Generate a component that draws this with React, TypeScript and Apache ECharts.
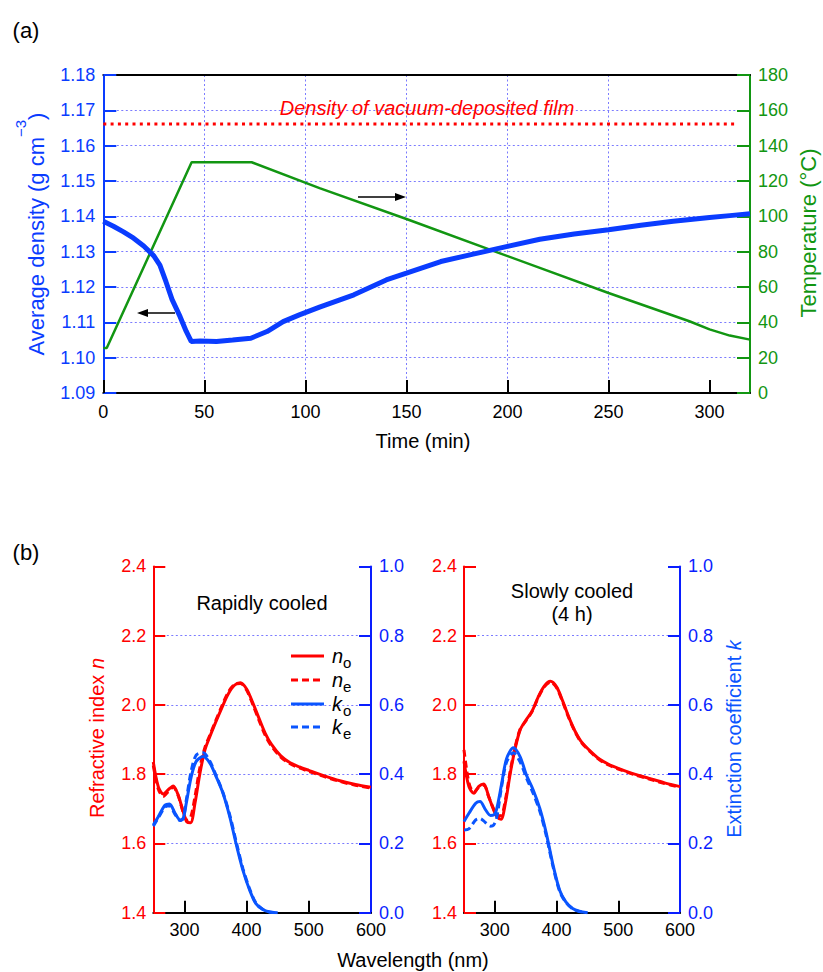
import React, { useEffect, useRef } from 'react';
import * as echarts from 'echarts';

// ---------- (a) data ----------
const TIME_DENSITY = [0, 5, 10, 15, 20, 25, 28, 31, 34, 38, 41, 43.5, 48, 56, 64, 73, 81, 89, 97, 107, 124, 140, 150, 167, 183, 200, 216, 233, 250, 266, 282, 300, 310, 320];
const DENSITY = [1.1386, 1.1372, 1.1356, 1.1338, 1.1316, 1.1288, 1.1262, 1.1215, 1.1165, 1.1116, 1.1075, 1.1046, 1.1047, 1.1046, 1.105, 1.1055, 1.1074, 1.1102, 1.1121, 1.1143, 1.1178, 1.122, 1.1239, 1.1272, 1.1293, 1.1315, 1.1335, 1.135, 1.1362, 1.1375, 1.1386, 1.1397, 1.1402, 1.1407];
const TIME_TEMP = [0, 1.7, 43.7, 73.4, 107, 150, 216, 250, 290, 300, 310, 320];
const TEMPERATURE = [25.5, 25.5, 130.6, 130.6, 116, 98.5, 70.8, 56.6, 40.6, 36, 32.5, 30.2];
const VACUUM_TIME = [0, 313];
const VACUUM_DENSITY = [1.1661, 1.1661];
const TIME_LABELS = [0, 50, 100, 150, 200, 250, 300];

// ---------- (b) data ----------
const WL_N = [250, 258, 266, 274, 282, 290, 298, 304, 310, 317, 325, 333, 341, 350, 360, 370, 380, 390, 400, 410, 420, 430, 440, 455, 470, 485, 500, 525, 550, 575, 600];
const RAPID_NO = [1.835, 1.764, 1.743, 1.755, 1.766, 1.74, 1.692, 1.662, 1.66, 1.716, 1.803, 1.87, 1.909, 1.949, 1.991, 2.03, 2.056, 2.064, 2.046, 2.006, 1.961, 1.918, 1.886, 1.853, 1.833, 1.821, 1.811, 1.795, 1.781, 1.77, 1.762];
const RAPID_NE = [1.825, 1.757, 1.736, 1.75, 1.762, 1.738, 1.69, 1.668, 1.675, 1.735, 1.82, 1.877, 1.913, 1.953, 1.996, 2.035, 2.058, 2.062, 2.043, 2.001, 1.955, 1.912, 1.881, 1.849, 1.83, 1.818, 1.808, 1.793, 1.779, 1.768, 1.76];
const SLOW_NO = [1.837, 1.764, 1.745, 1.765, 1.772, 1.735, 1.697, 1.676, 1.67, 1.716, 1.803, 1.875, 1.928, 1.955, 1.981, 2.022, 2.054, 2.068, 2.052, 2.011, 1.964, 1.924, 1.894, 1.866, 1.843, 1.828, 1.817, 1.801, 1.788, 1.775, 1.764];
const SLOW_NE = [1.87, 1.775, 1.748, 1.762, 1.768, 1.735, 1.7, 1.682, 1.68, 1.725, 1.81, 1.88, 1.93, 1.953, 1.98, 2.02, 2.052, 2.066, 2.05, 2.008, 1.962, 1.922, 1.892, 1.864, 1.841, 1.826, 1.815, 1.799, 1.786, 1.773, 1.762];

const WL_K = [250, 258, 269, 276, 285, 293, 298, 303, 311, 319, 330, 341, 351, 362, 373, 383, 394, 405, 415, 426, 437, 450];
const RAPID_KO = [0.253, 0.277, 0.311, 0.314, 0.287, 0.268, 0.272, 0.316, 0.393, 0.437, 0.451, 0.432, 0.393, 0.345, 0.277, 0.2, 0.123, 0.065, 0.026, 0.009, 0.002, 0];
const RAPID_KE = [0.25, 0.274, 0.305, 0.309, 0.284, 0.266, 0.272, 0.325, 0.41, 0.455, 0.462, 0.437, 0.396, 0.347, 0.282, 0.207, 0.128, 0.068, 0.028, 0.01, 0.002, 0];
const SLOW_KO = [0.263, 0.287, 0.316, 0.321, 0.297, 0.281, 0.282, 0.3, 0.372, 0.445, 0.476, 0.45, 0.398, 0.355, 0.3, 0.232, 0.14, 0.065, 0.031, 0.012, 0.004, 0];
const SLOW_KE = [0.239, 0.242, 0.268, 0.272, 0.26, 0.25, 0.253, 0.275, 0.365, 0.435, 0.462, 0.435, 0.39, 0.345, 0.292, 0.225, 0.135, 0.062, 0.03, 0.011, 0.003, 0];
const WL_LABELS = [300, 400, 500, 600];
const WL_TICKS = [300, 400, 500];

const FONT = '"Liberation Sans", Arial, Helvetica, sans-serif';
const BLUE = '#0a3cff';
const BLUE_AX = '#0a1eff';
const K_BLUE = '#0a55ff';
const GREEN = '#129612';
const RED = '#ff0000';
const GRIDC = '#7b7bff';

const zip = (xs: number[], ys: number[]) => xs.map((x, i) => [x, ys[i]]);

export default function App() {
  const ref = useRef<HTMLDivElement>(null);
  useEffect(() => {
    document.body.style.margin = '0';
    const chart = echarts.init(ref.current!, null, { renderer: 'svg' });

    const dotted = { type: [2, 2.5], color: GRIDC, width: 1 };

    const bottomPanelX = (gridIndex: number) => ({
      type: 'value', gridIndex, min: 250, max: 600,
      axisLine: { show: true, onZero: false, lineStyle: { color: '#000', width: 2 } },
      axisTick: { show: true, inside: true, length: 12, customValues: WL_TICKS, lineStyle: { color: '#000', width: 2 } },
      axisLabel: { show: true, customValues: WL_LABELS, color: '#000', fontSize: 18, fontFamily: FONT, margin: 8 },
      splitLine: { show: false },
    });
    const nAxis = (gridIndex: number) => ({
      type: 'value', gridIndex, min: 1.4, max: 2.4, interval: 0.2, position: 'left',
      axisLine: { show: true, onZero: false, lineStyle: { color: RED, width: 2 } },
      axisTick: { show: true, inside: true, length: 12, lineStyle: { color: RED, width: 2 } },
      axisLabel: { color: RED, fontSize: 18, fontFamily: FONT, margin: 7, formatter: (v: number) => v.toFixed(1) },
      splitLine: { show: true, showMaxLine: false, showMinLine: false, lineStyle: dotted },
    });
    const kAxis = (gridIndex: number) => ({
      type: 'value', gridIndex, min: 0, max: 1.0, interval: 0.2, position: 'right',
      axisLine: { show: true, onZero: false, lineStyle: { color: BLUE_AX, width: 2 } },
      axisTick: { show: true, inside: true, length: 12, lineStyle: { color: BLUE_AX, width: 2 } },
      axisLabel: { color: BLUE_AX, fontSize: 18, fontFamily: FONT, margin: 8, formatter: (v: number) => v.toFixed(1) },
      splitLine: { show: false },
    });

    const curve = (name: string, x: number, y: number, data: number[][], color: string, dashed: boolean) => ({
      name, type: 'line', xAxisIndex: x, yAxisIndex: y, data, symbol: 'none', smooth: 0.3,
      lineStyle: { color, width: 3, type: dashed ? [7, 4] : 'solid' }, z: color === RED ? 3 : 4,
    });

    const txt = (x: number, y: number, text: string, fontSize: number, fill: string, extra: any = {}) => ({
      type: 'text', x, y, z: 100,
      style: { text, fontSize, fill, fontFamily: FONT, align: 'center', verticalAlign: 'middle', ...extra },
    });

    const legendRows = [
      { y: 656, color: RED, dashed: false, sym: 'n', sub: 'o' },
      { y: 680, color: RED, dashed: true, sym: 'n', sub: 'e' },
      { y: 704, color: K_BLUE, dashed: false, sym: 'k', sub: 'o' },
      { y: 727, color: K_BLUE, dashed: true, sym: 'k', sub: 'e' },
    ];
    const legendGraphics: any[] = [];
    legendRows.forEach((r) => {
      legendGraphics.push({
        type: 'line', z: 100, shape: { x1: 291, y1: r.y, x2: 324, y2: r.y },
        style: { stroke: r.color, lineWidth: 3, lineDash: r.dashed ? [7, 4] : null },
      });
      legendGraphics.push(txt(332, r.y, r.sym, 20, '#000', { align: 'left', fontStyle: 'italic' }));
      legendGraphics.push(txt(343, r.y + 6, r.sub, 15, '#000', { align: 'left' }));
    });

    const arrow = (x1: number, x2: number, y: number) => {
      const dir = x2 > x1 ? 1 : -1;
      return [
        { type: 'line', z: 100, shape: { x1, y1: y, x2: x2 - dir * 8, y2: y }, style: { stroke: '#000', lineWidth: 1.5 } },
        { type: 'polygon', z: 100, shape: { points: [[x2, y], [x2 - dir * 11, y - 4], [x2 - dir * 11, y + 4]] }, style: { fill: '#000' } },
      ];
    };

    const option: any = {
      animation: false,
      textStyle: { fontFamily: FONT },
      grid: [
        { left: 103.3, top: 75, width: 646.7, height: 318 },
        { left: 153.3, top: 566.4, width: 217.7, height: 346.3 },
        { left: 464, top: 566.4, width: 216, height: 346.3 },
      ],
      xAxis: [
        {
          type: 'value', gridIndex: 0, min: 0, max: 320, interval: 50,
          axisLine: { show: true, onZero: false, lineStyle: { color: '#000', width: 2 } },
          axisTick: { show: true, inside: true, length: 13, customValues: TIME_LABELS, lineStyle: { color: '#000', width: 2 } },
          axisLabel: { customValues: TIME_LABELS, color: '#000', fontSize: 18, fontFamily: FONT, margin: 10 },
          splitLine: { show: true, showMinLine: false, showMaxLine: false, lineStyle: dotted },
        },
        {
          type: 'value', gridIndex: 0, min: 0, max: 320, position: 'top',
          axisLine: { show: true, onZero: false, lineStyle: { color: '#000', width: 2 } },
          axisTick: { show: false }, axisLabel: { show: false }, splitLine: { show: false },
        },
        bottomPanelX(1),
        bottomPanelX(2),
      ],
      yAxis: [
        {
          type: 'value', gridIndex: 0, min: 1.09, max: 1.18, interval: 0.01, position: 'left',
          axisLine: { show: true, onZero: false, lineStyle: { color: BLUE, width: 2 } },
          axisTick: { show: true, inside: true, length: 13, lineStyle: { color: BLUE, width: 2 } },
          axisLabel: { color: BLUE, fontSize: 18, fontFamily: FONT, margin: 8, formatter: (v: number) => v.toFixed(2) },
          splitLine: { show: true, showMinLine: false, showMaxLine: false, lineStyle: dotted },
        },
        {
          type: 'value', gridIndex: 0, min: 0, max: 180, interval: 20, position: 'right',
          axisLine: { show: true, onZero: false, lineStyle: { color: GREEN, width: 2 } },
          axisTick: { show: true, inside: true, length: 13, lineStyle: { color: GREEN, width: 2 } },
          axisLabel: { color: GREEN, fontSize: 18, fontFamily: FONT, margin: 8 },
          splitLine: { show: false },
        },
        nAxis(1), kAxis(1), nAxis(2), kAxis(2),
      ],
      series: [
        {
          name: 'vacuum', type: 'line', xAxisIndex: 0, yAxisIndex: 0, data: zip(VACUUM_TIME, VACUUM_DENSITY),
          symbol: 'none', lineStyle: { color: RED, width: 3, type: [3, 4.3] }, z: 2,
        },
        {
          name: 'temperature', type: 'line', xAxisIndex: 0, yAxisIndex: 1, data: zip(TIME_TEMP, TEMPERATURE),
          symbol: 'none', lineStyle: { color: GREEN, width: 2.5 }, z: 3,
        },
        {
          name: 'density', type: 'line', xAxisIndex: 0, yAxisIndex: 0, data: zip(TIME_DENSITY, DENSITY),
          symbol: 'none', lineStyle: { color: BLUE, width: 5 }, z: 4,
        },
        curve('rapid no', 2, 2, zip(WL_N, RAPID_NO), RED, false),
        curve('rapid ne', 2, 2, zip(WL_N, RAPID_NE), RED, true),
        curve('rapid ko', 2, 3, zip(WL_K, RAPID_KO), K_BLUE, false),
        curve('rapid ke', 2, 3, zip(WL_K, RAPID_KE), K_BLUE, true),
        curve('slow no', 3, 4, zip(WL_N, SLOW_NO), RED, false),
        curve('slow ne', 3, 4, zip(WL_N, SLOW_NE), RED, true),
        curve('slow ko', 3, 5, zip(WL_K, SLOW_KO), K_BLUE, false),
        curve('slow ke', 3, 5, zip(WL_K, SLOW_KE), K_BLUE, true),
      ],
      graphic: [
        txt(26, 30, '(a)', 22, '#000'),
        txt(26, 552, '(b)', 22, '#000'),
        txt(423, 441, 'Time (min)', 20, '#000'),
        {
          type: 'text', x: 30, y: 234, rotation: Math.PI / 2, z: 100,
          style: {
            text: '{a|Average density (g cm}{s|−3}{a|)}', align: 'center', verticalAlign: 'middle',
            rich: {
              a: { fontSize: 22, fontFamily: FONT, fill: BLUE, lineHeight: 34, verticalAlign: 'bottom' },
              s: { fontSize: 15, fontFamily: FONT, fill: BLUE, lineHeight: 15, verticalAlign: 'top' },
            },
          },
        },
        { ...txt(808, 233, 'Temperature (°C)', 22, GREEN), rotation: Math.PI / 2 },
        txt(427, 108, 'Density of vacuum-deposited film', 20, RED, { fontStyle: 'italic' }),
        ...arrow(175, 137, 313),
        ...arrow(358, 406, 197),
        txt(262, 603, 'Rapidly cooled', 20, '#000'),
        txt(572, 591, 'Slowly cooled', 20, '#000'),
        txt(572, 614, '(4 h)', 20, '#000'),
        ...legendGraphics,
        {
          type: 'text', x: 97, y: 738, rotation: Math.PI / 2, z: 100,
          style: {
            text: '{a|Refractive index }{i|n}', align: 'center', verticalAlign: 'middle',
            rich: {
              a: { fontSize: 20, fontFamily: FONT, fill: RED },
              i: { fontSize: 20, fontFamily: FONT, fill: RED, fontStyle: 'italic' },
            },
          },
        },
        {
          type: 'text', x: 734, y: 739, rotation: Math.PI / 2, z: 100,
          style: {
            text: '{a|Extinction coefficient }{i|k}', align: 'center', verticalAlign: 'middle',
            rich: {
              a: { fontSize: 20, fontFamily: FONT, fill: K_BLUE },
              i: { fontSize: 20, fontFamily: FONT, fill: K_BLUE, fontStyle: 'italic' },
            },
          },
        },
        txt(413, 960, 'Wavelength (nm)', 20, '#000'),
      ],
    };
    chart.setOption(option);
    return () => chart.dispose();
  }, []);
  return <div ref={ref} style={{ width: 823, height: 972 }} />;
}
